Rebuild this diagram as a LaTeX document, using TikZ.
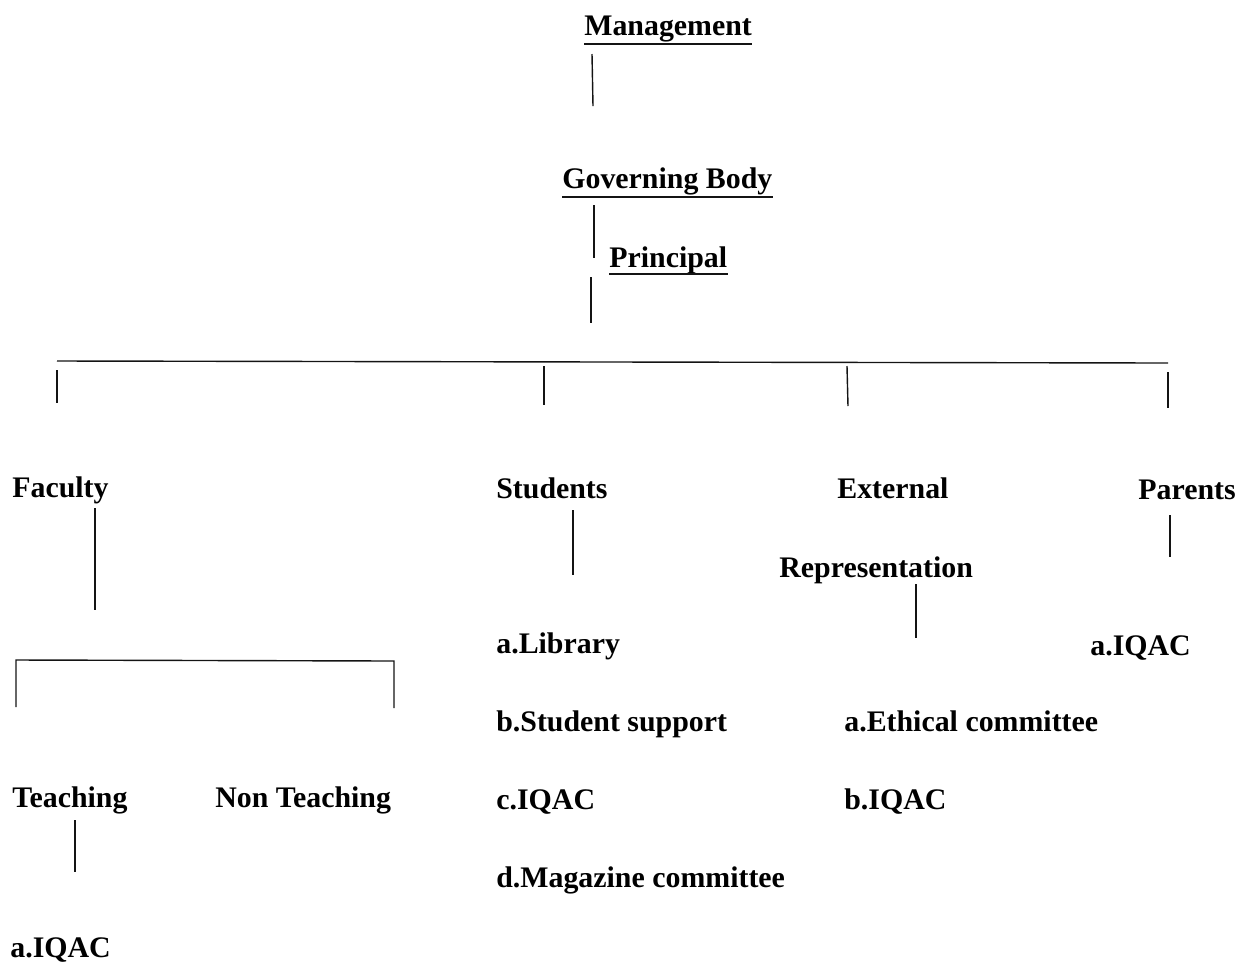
\documentclass[tikz,border=0pt]{standalone}
\usepackage{fontspec}
\setmainfont{Liberation Serif}
\usepackage{tikz}
\usepackage{xcolor}
\colorlet{InkGray}{black!92}
\newcommand{\chartfont}{\fontsize{17}{20}\selectfont\bfseries}
\tikzstyle{chartText}=[anchor=base west, inner sep=0pt, font=\chartfont, text=black]
\tikzstyle{chartLink}=[draw=InkGray, line width=0.8pt]
\tikzstyle{titleLine}=[draw=InkGray, line width=0.9pt]

\begin{document}
\begin{tikzpicture}[x=0.02cm, y=-0.02cm]
    \useasboundingbox (0,0) rectangle (1242,965);
    % Top of the chart
    \node[chartText] (mgmt) at (584,35) {Management};
    \node[chartText] (gov) at (562,188) {Governing Body};
    \node[chartText] (prin) at (609,267) {Principal};
    \draw[titleLine] ([yshift=-5]mgmt.base west) -- ([yshift=-5]mgmt.base east);
    \draw[titleLine] ([yshift=-5]gov.base west) -- ([yshift=-5]gov.base east);
    \draw[titleLine] ([yshift=-4]prin.base west) -- ([yshift=-4]prin.base east);

    \coordinate (m1) at (592,54);  \coordinate (m2) at (593,106);
    \coordinate (g1) at (594,205); \coordinate (g2) at (594,258);
    \coordinate (p1) at (591,277); \coordinate (p2) at (591,323);
    \draw[chartLink] (m1) -- (m2);
    \draw[chartLink] (g1) -- (g2);
    \draw[chartLink] (p1) -- (p2);

    % Main bar and drops
    \coordinate (barL) at (57,361); \coordinate (barR) at (1168,363);
    \draw[chartLink] (barL) -- (barR);
    \coordinate (d1a) at (57,370);   \coordinate (d1b) at (57,403);
    \coordinate (d2a) at (544,366);  \coordinate (d2b) at (544,405);
    \coordinate (d3a) at (847,366);  \coordinate (d3b) at (848,406);
    \coordinate (d4a) at (1168,372); \coordinate (d4b) at (1168,408);
    \draw[chartLink] (d1a) -- (d1b);
    \draw[chartLink] (d2a) -- (d2b);
    \draw[chartLink] (d3a) -- (d3b);
    \draw[chartLink] (d4a) -- (d4b);

    % Faculty branch
    \node[chartText] (faculty) at (12,497) {Faculty};
    \coordinate (f1) at (95,508); \coordinate (f2) at (95,610);
    \draw[chartLink] (f1) -- (f2);
    \coordinate (bL) at (16,707); \coordinate (bLt) at (16,660);
    \coordinate (bRt) at (394,661); \coordinate (bR) at (394,708);
    \draw[chartLink] (bL) -- (bLt) -- (bRt) -- (bR);
    \node[chartText] (teach) at (12,807) {Teaching};
    \node[chartText] (nonteach) at (215,807) {Non Teaching};
    \coordinate (t1) at (75,820); \coordinate (t2) at (75,872);
    \draw[chartLink] (t1) -- (t2);
    \node[chartText] (facIqac) at (10,957) {a.IQAC};

    % Students branch
    \node[chartText] (students) at (496,498) {Students};
    \coordinate (s1) at (573,510); \coordinate (s2) at (573,575);
    \draw[chartLink] (s1) -- (s2);
    \node[chartText] (lib) at (496,653) {a.Library};
    \node[chartText] (stuSup) at (496,731) {b.Student support};
    \node[chartText] (stuIqac) at (496,809) {c.IQAC};
    \node[chartText] (mag) at (496,887) {d.Magazine committee};

    % External branch
    \node[chartText] (external) at (837,498) {External};
    \node[chartText] (repr) at (779,577) {Representation};
    \coordinate (e1) at (916,584); \coordinate (e2) at (916,638);
    \draw[chartLink] (e1) -- (e2);
    \node[chartText] (ethic) at (844,731) {a.Ethical committee};
    \node[chartText] (extIqac) at (844,809) {b.IQAC};

    % Parents branch
    \node[chartText] (parents) at (1138,499) {Parents};
    \coordinate (r1) at (1170,515); \coordinate (r2) at (1170,557);
    \draw[chartLink] (r1) -- (r2);
    \node[chartText] (parIqac) at (1090,655) {a.IQAC};
\end{tikzpicture}
\end{document}
